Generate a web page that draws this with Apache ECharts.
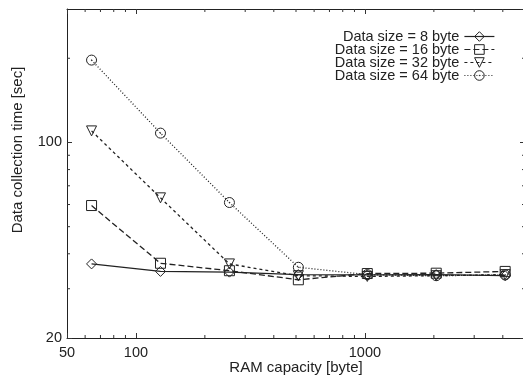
<!DOCTYPE html>
<html>
<head>
<meta charset="utf-8">
<script src="https://cdn.jsdelivr.net/npm/echarts@6/dist/echarts.min.js"></script>
<style>
  html, body { margin: 0; padding: 0; background: #fff; }
  #chart { width: 523px; height: 376px; }
</style>
</head>
<body>
<div id="chart"></div>
<script>
// RAM capacity [byte]
const ramSizes = [64, 128, 256, 512, 1024, 2048, 4096];

// data collection time [sec] per data size
const size8 = [36.8, 34.6, 34.4, 33.7, 33.6, 33.7, 33.4];
const size16 = [59.5, 37.0, 34.8, 32.3, 34.0, 34.1, 34.6];
const size32 = [110, 63.4, 36.8, 33.4, 33.2, 33.4, 33.7];
const size64 = [197, 108, 61, 35.8, 33.7, 33.4, 33.6];

const seriesNames = ['Data size = 8 byte', 'Data size = 16 byte', 'Data size = 32 byte', 'Data size = 64 byte'];

// gnuplot-style minor ticks
const minorX = [60, 70, 80, 90, 200, 300, 400, 500, 600, 700, 800, 900, 2000, 3000, 4000];
const minorY = [30, 40, 50, 60, 70, 80, 90, 200];

const X_MIN = 50, X_MAX = 5000, Y_MIN = 20, Y_MAX = 300;
const ink = '#222';
const font = 'Liberation Sans, Arial, Helvetica, sans-serif';

const circleDot = 'path://M0,10 A10,10 0 1,1 20,10 A10,10 0 1,1 0,10 Z M9.4,10 A0.6,0.6 0 1,1 10.6,10 A0.6,0.6 0 1,1 9.4,10 Z';

function lineSeries(name, values, symbol, dash, rotate) {
  return {
    name,
    type: 'line',
    data: ramSizes.map((x, i) => [x, values[i]]),
    symbol,
    symbolSize: 10,
    symbolRotate: rotate || 0,
    showAllSymbol: true,
    lineStyle: { color: ink, width: 1.3, type: dash },
    itemStyle: { color: 'transparent', borderColor: ink, borderWidth: 1 },
    emphasis: { disabled: true },
    z: 3,
  };
}

function tickLine(x1, y1, x2, y2) {
  return { type: 'line', shape: { x1, y1, x2, y2 }, style: { stroke: '#333', lineWidth: 1 } };
}

const chart = echarts.init(document.getElementById('chart'));

const axisCommon = {
  type: 'log',
  logBase: 10,
  axisLine: { show: true, lineStyle: { color: ink, width: 1 } },
  axisTick: { show: true, inside: true, length: 5, lineStyle: { color: '#333' } },
  splitLine: { show: false },
};

chart.setOption({
  animation: false,
  backgroundColor: '#fff',
  textStyle: { fontFamily: font },
  grid: { left: 67, right: -2, top: 9, bottom: 38, containLabel: false, outerBoundsMode: 'none' },
  legend: {
    data: seriesNames,
    orient: 'vertical',
    align: 'right',
    right: 23,
    top: 24,
    itemWidth: 30,
    itemHeight: 12,
    itemGap: -2,
    itemStyle: { color: 'transparent', borderColor: ink, borderWidth: 1 },
    lineStyle: { width: 1.2 },
    textStyle: { fontSize: 14.5, color: ink, fontFamily: font },
  },
  xAxis: [
    Object.assign({}, axisCommon, {
      min: X_MIN,
      max: X_MAX,
      name: 'RAM capacity [byte]',
      nameLocation: 'middle',
      nameGap: 22,
      nameMoveOverlap: false,
      nameTextStyle: { fontSize: 15, color: ink, fontFamily: font },
      axisLabel: {
        color: ink, fontSize: 14.5, margin: 7, showMaxLabel: false,
        formatter: (v) => String(Math.round(v)),
      },
    }),
    Object.assign({}, axisCommon, {
      position: 'top',
      min: X_MIN,
      max: X_MAX,
      axisLabel: { show: false },
    }),
  ],
  yAxis: [
    Object.assign({}, axisCommon, {
      min: Y_MIN,
      max: Y_MAX,
      axisLabel: {
        color: ink, fontSize: 14.5, margin: 5, showMaxLabel: false,
        formatter: (v) => String(Math.round(v)),
      },
    }),
    Object.assign({}, axisCommon, {
      position: 'right',
      min: Y_MIN,
      max: Y_MAX,
      axisLabel: { show: false },
    }),
  ],
  graphic: [{
    type: 'text',
    x: 18,
    y: 150,
    rotation: Math.PI / 2,
    style: {
      text: 'Data collection time [sec]',
      fill: ink,
      font: '15px ' + font,
      textAlign: 'center',
      textVerticalAlign: 'middle',
    },
  }],
  series: [
    lineSeries(seriesNames[0], size8, 'diamond', 'solid'),
    lineSeries(seriesNames[1], size16, 'rect', [6, 3]),
    lineSeries(seriesNames[2], size32, 'triangle', [3, 3], 180),
    lineSeries(seriesNames[3], size64, circleDot, [1, 2]),
    {
      type: 'custom',
      silent: true,
      clip: false,
      data: minorX.map((v) => [v, Y_MIN]),
      renderItem(params, api) {
        const b = api.coord([api.value(0), Y_MIN]);
        const t = api.coord([api.value(0), Y_MAX]);
        return {
          type: 'group',
          children: [tickLine(b[0], b[1], b[0], b[1] - 3), tickLine(t[0], t[1], t[0], t[1] + 3)],
        };
      },
    },
    {
      type: 'custom',
      silent: true,
      clip: false,
      data: minorY.map((v) => [X_MIN, v]),
      renderItem(params, api) {
        const l = api.coord([X_MIN, api.value(1)]);
        const r = api.coord([X_MAX, api.value(1)]);
        return {
          type: 'group',
          children: [tickLine(l[0], l[1], l[0] + 3, l[1]), tickLine(r[0], r[1], r[0] - 3, r[1])],
        };
      },
    },
  ],
});
</script>
</body>
</html>
